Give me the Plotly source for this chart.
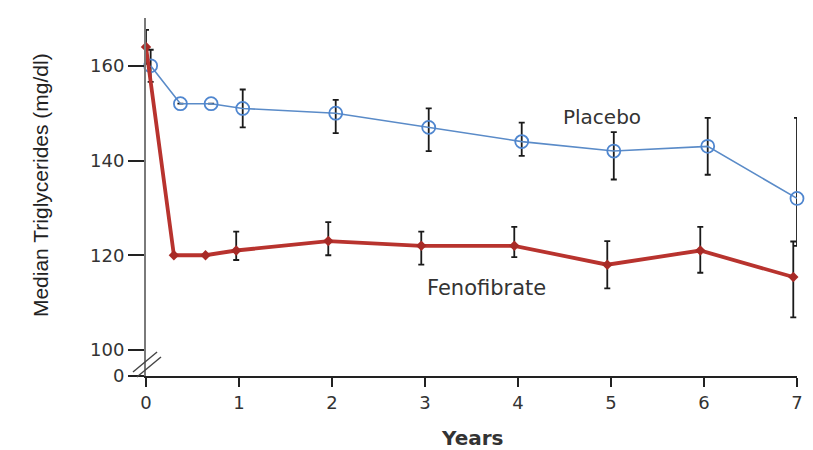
import plotly.graph_objects as go

# ---- data ----
placebo_x = [0.05, 0.37, 0.70, 1.04, 2.04, 3.04, 4.04, 5.03, 6.04, 7.0]
placebo_y = [160, 152, 152, 151, 150, 147, 144, 142, 143, 132]
placebo_err_plus = [3.4, None, None, 4, 2.8, 4, 4, 4, 6, 17]
placebo_err_minus = [3.4, None, None, 4, 4.2, 5, 3, 6, 6, 10]

feno_x = [0.0, 0.30, 0.64, 0.97, 1.96, 2.96, 3.96, 4.96, 5.96, 6.96]
feno_y = [164, 120, 120, 121, 123, 122, 122, 118, 121, 115.4]
feno_err_plus = [3.6, None, None, 4, 4, 3, 4, 5, 5, 7.5]
feno_err_minus = [3.6, None, None, 2, 3, 4, 2.4, 5, 4.7, 8.5]

x_ticks = [0, 1, 2, 3, 4, 5, 6, 7]
y_tickvals = [94.5, 100, 120, 140, 160]
y_ticktext = ["0", "100", "120", "140", "160"]


def clean(v):
    return [0 if a is None else a for a in v]


fig = go.Figure()

fig.add_trace(go.Scatter(
    x=placebo_x, y=placebo_y, mode="lines+markers", name="Placebo",
    line=dict(color="#5a8bc8", width=1.6),
    marker=dict(symbol="circle-open", size=13, color="#4f86cf", line=dict(width=1.8)),
    error_y=dict(type="data", symmetric=False, array=clean(placebo_err_plus),
                 arrayminus=clean(placebo_err_minus), color="#1a1a1a",
                 thickness=1.8, width=3),
    cliponaxis=False, showlegend=False,
))

fig.add_trace(go.Scatter(
    x=feno_x, y=feno_y, mode="lines+markers", name="Fenofibrate",
    line=dict(color="#b8332e", width=3.8),
    marker=dict(symbol="diamond", size=8, color="#a82a26"),
    error_y=dict(type="data", symmetric=False, array=clean(feno_err_plus),
                 arrayminus=clean(feno_err_minus), color="#1a1a1a",
                 thickness=1.8, width=3),
    cliponaxis=False, showlegend=False,
))

tick_font = dict(family="DejaVu Sans", size=18, color="#333333")

fig.update_layout(
    width=813, height=450,
    margin=dict(l=146, r=16, t=18, b=74),
    paper_bgcolor="white", plot_bgcolor="white",
    xaxis=dict(range=[0, 7], tickvals=x_ticks, showgrid=False, zeroline=False,
               showline=True, linecolor="#222222", linewidth=1.8,
               ticks="outside", ticklen=9, tickwidth=1.8, tickcolor="#222222",
               tickfont=tick_font, automargin=False),
    yaxis=dict(range=[94.5, 170.1], tickvals=y_tickvals, ticktext=y_ticktext,
               showgrid=False, zeroline=False,
               showline=True, linecolor="#7a7a7a", linewidth=2,
               ticks="outside", ticklen=16, tickwidth=1.8, tickcolor="#222222",
               tickfont=tick_font, automargin=False),
    annotations=[
        dict(text="Placebo", x=4.9, y=149.2, xref="x", yref="y", showarrow=False,
             font=dict(family="DejaVu Sans", size=20, color="#333333")),
        dict(text="Fenofibrate", x=3.66, y=113.1, xref="x", yref="y", showarrow=False,
             font=dict(family="DejaVu Sans", size=21, color="#333333")),
        dict(text="Years", x=0.5008, y=-0.173, xref="paper", yref="paper", showarrow=False,
             xanchor="center", yanchor="middle",
             font=dict(family="DejaVu Sans", size=20, color="#333333", weight="bold")),
        dict(text="Median Triglycerides (mg/dl)", x=-0.163, y=0.533, xref="paper", yref="paper",
             showarrow=False, textangle=-90, xanchor="center", yanchor="middle",
             font=dict(family="Liberation Sans", size=21, color="#222222")),
    ],
    shapes=[
        dict(type="line", xref="paper", yref="paper", x0=-0.020, y0=0.011, x1=0.017, y1=0.067,
             line=dict(color="#444444", width=1.4)),
        dict(type="line", xref="paper", yref="paper", x0=-0.014, y0=-0.003, x1=0.023, y1=0.053,
             line=dict(color="#444444", width=1.4)),
    ],
)

fig.write_html("out.html")
